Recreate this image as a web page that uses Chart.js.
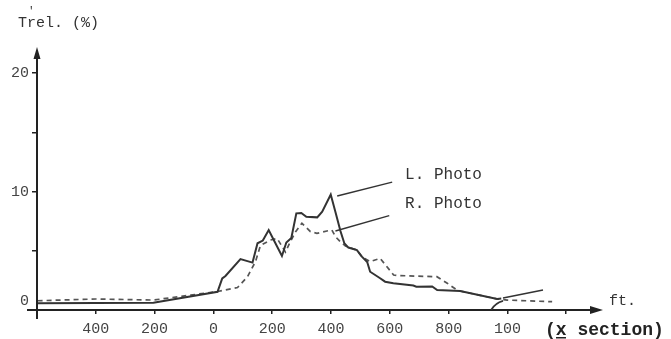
<!DOCTYPE html>
<html>
<head>
<meta charset="utf-8">
<script src="https://cdn.jsdelivr.net/npm/chart.js@4/dist/chart.umd.min.js"></script>
<style>
  body { margin: 0; background: #fff; }
  #wrap { width: 671px; height: 339px; }
</style>
</head>
<body>
<div id="wrap"><canvas id="myChart" width="671" height="339"></canvas></div>
<script>
'use strict';

//////////////// data ///////////////////

// L. Photo (solid line)
let leftX = [-598, -400, -204, 14, 30, 41, 92, 133, 150, 168, 188, 207, 233, 248, 265, 282, 299, 316, 353, 370,
  399, 415, 432, 445, 459, 488, 505, 523, 533, 567, 584, 612, 680, 690, 744, 761, 839, 965, 979];
let leftY = [0.57, 0.59, 0.62, 1.54, 2.66, 2.87, 4.30, 4.0, 5.63, 5.86, 6.75, 5.82, 4.56, 5.70, 6.08, 8.16, 8.19, 7.87, 7.82, 8.30,
  9.75, 8.27, 6.67, 5.65, 5.27, 5.06, 4.50, 4.05, 3.23, 2.68, 2.39, 2.25, 2.07, 1.97, 1.98, 1.69, 1.60, 0.93, 0.97];

// R. Photo (dashed line)
let rightX = [-598, -400, -204, 14, 82, 116, 143, 160, 194, 217, 245, 259, 279, 301, 330, 352, 386, 403, 415, 432,
  449, 488, 505, 533, 567, 613, 624, 760, 794, 828, 839, 965, 999, 1152];
let rightY = [0.78, 0.93, 0.84, 1.56, 1.90, 2.81, 4.08, 5.44, 5.91, 6.03, 4.89, 5.63, 6.58, 7.32, 6.61, 6.47, 6.67, 6.75, 6.19, 5.76,
  5.40, 5.06, 4.50, 4.08, 4.36, 2.95, 2.91, 2.81, 2.28, 1.69, 1.60, 0.93, 0.84, 0.70];

// ticks
let xTicks = [-400, -200, 0, 200, 400, 600, 800, 1000, 1200];
let xTickLabels = ['400', '200', '0', '200', '400', '600', '800', '100', ''];
let yTicks = [0, 5, 10, 15, 20];
let yTickLabels = [['0', ''], '', '10', '', '20'];

// pointer lines (data units) and their labels
let pointerLines = [
  [[421, 9.62], [608, 10.8]],
  [[415, 6.67], [598, 7.97]],
  [[985, 1.01], [1121, 1.69]]
];
let pointerLabels = ['L. Photo', 'R. Photo'];
let pointerLabelPos = [[652, 11.4], [652, 8.95]];

const ink = '#333';
const mono = '"Liberation Mono", "DejaVu Sans Mono", monospace';

function toPoints(xs, ys) {
  let pts = [];
  for (let i = 0; i < xs.length; i++) {
    pts.push({ x: xs[i], y: ys[i] });
  }
  return pts;
}

//////////////// axes, arrows and text ///////////////////

const extras = {
  id: 'extras',
  beforeDraw(chart) {
    let ctx = chart.ctx;
    ctx.save();
    ctx.fillStyle = '#fff';
    ctx.fillRect(0, 0, chart.width, chart.height);
    ctx.restore();
  },
  afterDraw(chart) {
    let ctx = chart.ctx;
    let xs = chart.scales.x;
    let ys = chart.scales.y;
    let a = chart.chartArea;
    let x0 = xs.getPixelForValue(-600);
    let y0 = ys.getPixelForValue(0);

    ctx.save();
    ctx.strokeStyle = '#222';
    ctx.fillStyle = '#222';
    ctx.lineWidth = 2;

    // axes
    ctx.beginPath();
    ctx.moveTo(x0 - 10, y0);
    ctx.lineTo(a.right - 6, y0);
    ctx.moveTo(x0, y0 + 9);
    ctx.lineTo(x0, a.top + 6);
    ctx.stroke();

    // arrow heads
    ctx.beginPath();
    ctx.moveTo(a.right, y0);
    ctx.lineTo(a.right - 13, y0 - 4);
    ctx.lineTo(a.right - 13, y0 + 4);
    ctx.closePath();
    ctx.fill();
    ctx.beginPath();
    ctx.moveTo(x0, a.top);
    ctx.lineTo(x0 - 3.5, a.top + 12);
    ctx.lineTo(x0 + 3.5, a.top + 12);
    ctx.closePath();
    ctx.fill();

    // pointer lines
    ctx.strokeStyle = ink;
    ctx.lineWidth = 1.4;
    for (let i = 0; i < pointerLines.length; i++) {
      let p = pointerLines[i];
      ctx.beginPath();
      ctx.moveTo(xs.getPixelForValue(p[0][0]), ys.getPixelForValue(p[0][1]));
      ctx.lineTo(xs.getPixelForValue(p[1][0]), ys.getPixelForValue(p[1][1]));
      ctx.stroke();
    }
    // little hook near 1000 ft
    ctx.lineWidth = 1.8;
    ctx.beginPath();
    ctx.moveTo(xs.getPixelForValue(945), ys.getPixelForValue(0.02));
    ctx.quadraticCurveTo(xs.getPixelForValue(958), ys.getPixelForValue(0.6),
      xs.getPixelForValue(985), ys.getPixelForValue(0.78));
    ctx.stroke();

    // labels
    ctx.fillStyle = '#333';
    ctx.font = '16px ' + mono;
    ctx.textBaseline = 'middle';
    ctx.textAlign = 'left';
    for (let i = 0; i < pointerLabels.length; i++) {
      ctx.fillText(pointerLabels[i], xs.getPixelForValue(pointerLabelPos[i][0]), ys.getPixelForValue(pointerLabelPos[i][1]));
    }

    // y title
    ctx.font = '15px ' + mono;
    ctx.fillText('Trel. (%)', 18, 23);
    ctx.font = '11px ' + mono;
    ctx.fillText("'", 28, 11);

    // x unit and title
    ctx.font = '15px ' + mono;
    ctx.fillText('ft.', 609, 301);
    ctx.font = 'bold 18px ' + mono;
    ctx.fillStyle = '#222';
    ctx.fillText('(x section)', 545, 330);
    ctx.fillRect(556, 337, 10, 1.5);

    ctx.restore();
  }
};

//////////////// the chart ///////////////////

let ctx = document.getElementById('myChart').getContext('2d');
let myChart = new Chart(ctx, {
  type: 'line',
  data: {
    datasets: [{
      label: 'L. Photo',
      data: toPoints(leftX, leftY),
      borderColor: ink,
      borderWidth: 2,
      pointRadius: 0,
      tension: 0,
      fill: false
    }, {
      label: 'R. Photo',
      data: toPoints(rightX, rightY),
      borderColor: '#555',
      borderWidth: 1.7,
      borderDash: [5, 4],
      pointRadius: 0,
      tension: 0,
      fill: false
    }]
  },
  options: {
    responsive: false,
    animation: false,
    layout: { padding: { left: 0, right: 68, top: 47, bottom: 0 } },
    plugins: {
      legend: { display: false },
      tooltip: { enabled: false }
    },
    scales: {
      x: {
        type: 'linear',
        min: -600,
        max: 1325,
        border: { display: false },
        grid: { drawOnChartArea: false, drawTicks: true, tickLength: 4, color: '#222', lineWidth: 1.5 },
        afterBuildTicks: (s) => { s.ticks = xTicks.map(v => ({ value: v })); },
        afterFit: (s) => { s.height = 29; },
        ticks: {
          autoSkip: false,
          maxRotation: 0,
          padding: 6,
          color: '#444',
          font: { family: mono, size: 15 },
          callback: (v) => xTickLabels[xTicks.indexOf(v)]
        }
      },
      y: {
        type: 'linear',
        min: 0,
        max: 22.2,
        border: { display: false },
        grid: { drawOnChartArea: false, drawTicks: true, tickLength: 5, color: '#222', lineWidth: 1.5 },
        afterBuildTicks: (s) => { s.ticks = yTicks.map(v => ({ value: v })); },
        afterFit: (s) => { s.width = 37; },
        ticks: {
          padding: 3,
          color: '#444',
          font: { family: mono, size: 15 },
          callback: (v) => yTickLabels[yTicks.indexOf(v)]
        }
      }
    }
  },
  plugins: [extras]
});
</script>
</body>
</html>
